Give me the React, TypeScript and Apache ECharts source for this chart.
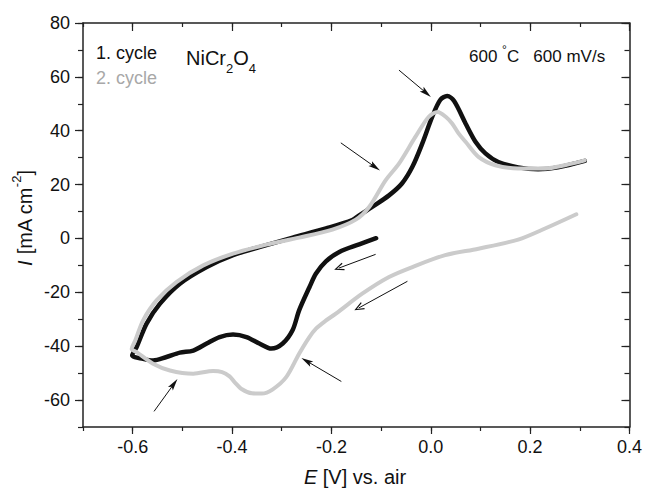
import React, { useEffect, useRef } from "react";
import * as echarts from "echarts";

// Cycle 1 (black): E [V], I [mA cm^-2]
const cycle1E = [
  -0.11, -0.144, -0.184, -0.211, -0.231, -0.244, -0.265, -0.278, -0.298, -0.321,
  -0.345, -0.371, -0.398, -0.425, -0.451, -0.478, -0.505, -0.532, -0.559, -0.579,
  -0.601, -0.592, -0.572, -0.545, -0.505, -0.451, -0.398, -0.345, -0.278, -0.211,
  -0.158, -0.144, -0.118, -0.084, -0.058, -0.037, -0.017, 0.003, 0.019, 0.033,
  0.047, 0.07, 0.09, 0.11, 0.136, 0.176, 0.216, 0.256, 0.31,
];
const cycle1I = [
  0.1, -2.2, -5, -8.5, -13, -18, -26.7, -34, -39, -40.9,
  -39, -36.6, -35.7, -36.6, -39, -41.6, -42.4, -44, -45.3, -44.7,
  -43.4, -40.3, -31.6, -24.2, -16.8, -10.6, -6.2, -3.2, 0.3, 3.7,
  6.8, 8.6, 11.7, 16, 20.4, 26.6, 35.3, 45.2, 51.4, 52.9,
  51, 42.7, 35.9, 31.6, 28.4, 26.4, 25.7, 26.4, 28.8,
];

// Cycle 2 (grey)
const cycle2E = [
  0.293, 0.23, 0.176, 0.096, 0.029, -0.037, -0.084, -0.138, -0.191, -0.212,
  -0.231, -0.245, -0.265, -0.291, -0.318, -0.34, -0.36, -0.38, -0.395, -0.405,
  -0.42, -0.438, -0.478, -0.525, -0.559, -0.592, -0.602, -0.595, -0.579, -0.552,
  -0.512, -0.458, -0.398, -0.331, -0.265, -0.198, -0.151, -0.124, -0.091, -0.064,
  -0.031, -0.004, 0.014, 0.03, 0.043, 0.056, 0.07, 0.096, 0.13, 0.176,
  0.23, 0.27, 0.31,
];
const cycle2I = [
  9, 3.7, -0.4, -3.8, -6.2, -10.6, -14.3, -20.5, -27.9, -30.6,
  -33.5, -36.8, -42.8, -51.5, -56, -57.6, -57.5, -56, -53.3, -51.2,
  -49.6, -49.2, -50.2, -49, -46.5, -42.2, -41, -38, -30.4, -23,
  -16.2, -10, -5.6, -2.3, 0.3, 3.3, 7, 11.7, 21.6, 27.8,
  37.7, 45.2, 47, 45.2, 42.7, 39, 35.9, 30.3, 27.2, 26,
  26, 27.2, 29,
];

// Annotation arrows (data coordinates): start, end, head type
const arrowFromE = [-0.064, -0.181, -0.111, -0.047, -0.18, -0.557];
const arrowFromI = [62.5, 35.5, -5.9, -15.9, -53.1, -64.2];
const arrowToE = [-0.009, -0.112, -0.185, -0.145, -0.25, -0.517];
const arrowToI = [54, 26.5, -11, -25.8, -45.5, -54];
const arrowHeads = ["filled", "filled", "open", "open", "filled", "filled"];

const xMajorTicks = [-0.6, -0.4, -0.2, 0, 0.2, 0.4];
const yMajorTicks = [-60, -40, -20, 0, 20, 40, 60, 80];

const X_MIN = -0.7;
const X_MAX = 0.4;
const Y_MIN = -70;
const Y_MAX = 80;

const FONT = "'Liberation Sans', Arial, Helvetica, sans-serif";
const AXIS_COLOR = "#222";

const FILLED_HEAD = "path://M5,0 L10,20 L5,16 L0,20 Z";
const OPEN_HEAD = "path://M5,0 L10,12 L8.6,12.6 L5,3.6 L1.4,12.6 L0,12 Z";

function pairs(xs: number[], ys: number[]) {
  return xs.map((x, i) => [x, ys[i]]);
}

export default function App() {
  const ref = useRef<HTMLDivElement>(null);

  useEffect(() => {
    document.body.style.margin = "0";
    if (!ref.current) return;
    const chart = echarts.init(ref.current, undefined, { renderer: "svg" });

    const baseX = {
      type: "value" as const,
      min: X_MIN,
      max: X_MAX,
      splitLine: { show: false },
    };
    const baseY = {
      type: "value" as const,
      min: Y_MIN,
      max: Y_MAX,
      splitLine: { show: false },
    };
    const lineStyleAxis = { color: AXIS_COLOR, width: 1.5 };
    const tickStyle = { color: AXIS_COLOR, width: 1.2 };

    const markData = arrowFromE.map((_, i) => [
      { coord: [arrowFromE[i], arrowFromI[i]], symbol: "none" },
      {
        coord: [arrowToE[i], arrowToI[i]],
        symbol: arrowHeads[i] === "filled" ? FILLED_HEAD : OPEN_HEAD,
        symbolSize: arrowHeads[i] === "filled" ? [6, 12] : [8, 10],
      },
    ]);

    chart.setOption({
      animation: false,
      grid: { left: 83, right: 13, top: 23, bottom: 61, containLabel: false },
      xAxis: [
        {
          ...baseX,
          position: "bottom",
          interval: 0.1,
          axisLine: { show: true, onZero: false, lineStyle: lineStyleAxis },
          axisTick: { show: true, inside: false, length: 4, lineStyle: tickStyle },
          axisLabel: { show: false },
        },
        {
          ...baseX,
          position: "bottom",
          axisLine: { show: false, onZero: false },
          axisTick: { show: true, inside: false, length: 7, customValues: xMajorTicks, lineStyle: tickStyle },
          axisLabel: {
            show: true,
            customValues: xMajorTicks,
            margin: 11,
            fontSize: 18,
            fontFamily: FONT,
            color: "#111",
            formatter: (v: number) => (Math.abs(v) < 1e-9 ? "0.0" : v.toFixed(1)),
          },
        },
        {
          ...baseX,
          position: "top",
          interval: 0.1,
          axisLine: { show: true, onZero: false, lineStyle: lineStyleAxis },
          axisTick: { show: true, inside: true, length: 4, lineStyle: tickStyle },
          axisLabel: { show: false },
        },
        {
          ...baseX,
          position: "top",
          axisLine: { show: false, onZero: false },
          axisTick: { show: true, inside: true, length: 8, customValues: xMajorTicks, lineStyle: tickStyle },
          axisLabel: { show: false },
        },
      ],
      yAxis: [
        {
          ...baseY,
          position: "left",
          interval: 10,
          axisLine: { show: true, onZero: false, lineStyle: lineStyleAxis },
          axisTick: { show: true, inside: false, length: 5, lineStyle: tickStyle },
          axisLabel: { show: false },
        },
        {
          ...baseY,
          position: "left",
          axisLine: { show: false, onZero: false },
          axisTick: { show: true, inside: false, length: 8, customValues: yMajorTicks, lineStyle: tickStyle },
          axisLabel: {
            show: true,
            customValues: yMajorTicks,
            margin: 13,
            fontSize: 18,
            fontFamily: FONT,
            color: "#111",
          },
        },
        {
          ...baseY,
          position: "right",
          interval: 10,
          axisLine: { show: true, onZero: false, lineStyle: lineStyleAxis },
          axisTick: { show: true, inside: true, length: 5, lineStyle: tickStyle },
          axisLabel: { show: false },
        },
        {
          ...baseY,
          position: "right",
          axisLine: { show: false, onZero: false },
          axisTick: { show: true, inside: true, length: 8, customValues: yMajorTicks, lineStyle: tickStyle },
          axisLabel: { show: false },
        },
      ],
      series: [
        {
          name: "1. cycle",
          type: "line",
          xAxisIndex: 0,
          yAxisIndex: 0,
          data: pairs(cycle1E, cycle1I),
          showSymbol: false,
          smooth: 0.3,
          lineStyle: { color: "#111", width: 4.5, cap: "round", join: "round" },
          silent: true,
          z: 2,
        },
        {
          name: "2. cycle",
          type: "line",
          xAxisIndex: 0,
          yAxisIndex: 0,
          data: pairs(cycle2E, cycle2I),
          showSymbol: false,
          smooth: 0.3,
          lineStyle: { color: "#cbcbcb", width: 4, cap: "round", join: "round" },
          silent: true,
          z: 3,
          markLine: {
            silent: true,
            animation: false,
            symbol: ["none", "none"],
            label: { show: false },
            emphasis: { disabled: true },
            lineStyle: { color: "#111", width: 1, type: "solid" },
            data: markData,
          },
        },
      ],
      graphic: [
        {
          type: "text",
          x: 96,
          y: 53,
          style: {
            text: "1. cycle",
            fontSize: 18,
            fontFamily: FONT,
            fill: "#111",
            textAlign: "left",
            textVerticalAlign: "middle",
            align: "left",
            verticalAlign: "middle",
          },
        },
        {
          type: "text",
          x: 96,
          y: 78,
          style: {
            text: "2. cycle",
            fontSize: 18,
            fontFamily: FONT,
            fill: "#a8a8a8",
            textAlign: "left",
            textVerticalAlign: "middle",
            align: "left",
            verticalAlign: "middle",
          },
        },
        {
          type: "text",
          x: 186,
          y: 58,
          style: {
            text: "NiCr{sub|2}O{sub|4}",
            fontSize: 20,
            fontFamily: FONT,
            fill: "#111",
            lineHeight: 34,
            textAlign: "left",
            textVerticalAlign: "middle",
            align: "left",
            verticalAlign: "middle",
            rich: {
              sub: { fontSize: 13, fontFamily: FONT, fill: "#111", verticalAlign: "bottom" },
            },
          },
        },
        {
          type: "text",
          x: 469,
          y: 56,
          style: {
            text: "600 {sup|°}C   600 mV/s",
            fontSize: 17,
            fontFamily: FONT,
            fill: "#111",
            lineHeight: 24,
            textAlign: "left",
            textVerticalAlign: "middle",
            align: "left",
            verticalAlign: "middle",
            rich: {
              sup: { fontSize: 12, fontFamily: FONT, fill: "#111", verticalAlign: "top" },
            },
          },
        },
        {
          type: "text",
          x: 355,
          y: 477,
          style: {
            text: "{i|E} [V] vs. air",
            fontSize: 20,
            fontFamily: FONT,
            fill: "#111",
            textAlign: "center",
            textVerticalAlign: "middle",
            align: "center",
            verticalAlign: "middle",
            rich: {
              i: { fontSize: 20, fontFamily: FONT, fontStyle: "italic", fill: "#111" },
            },
          },
        },
        {
          type: "text",
          x: 25,
          y: 218,
          rotation: Math.PI / 2,
          style: {
            text: "{i|I} [mA cm{sup|-2}]",
            fontSize: 20,
            fontFamily: FONT,
            fill: "#111",
            lineHeight: 30,
            textAlign: "center",
            textVerticalAlign: "middle",
            align: "center",
            verticalAlign: "middle",
            rich: {
              i: { fontSize: 20, fontFamily: FONT, fontStyle: "italic", fill: "#111" },
              sup: { fontSize: 13, fontFamily: FONT, fill: "#111", verticalAlign: "top" },
            },
          },
        },
      ],
    });

    return () => chart.dispose();
  }, []);

  return <div ref={ref} style={{ width: 645, height: 488 }} />;
}
